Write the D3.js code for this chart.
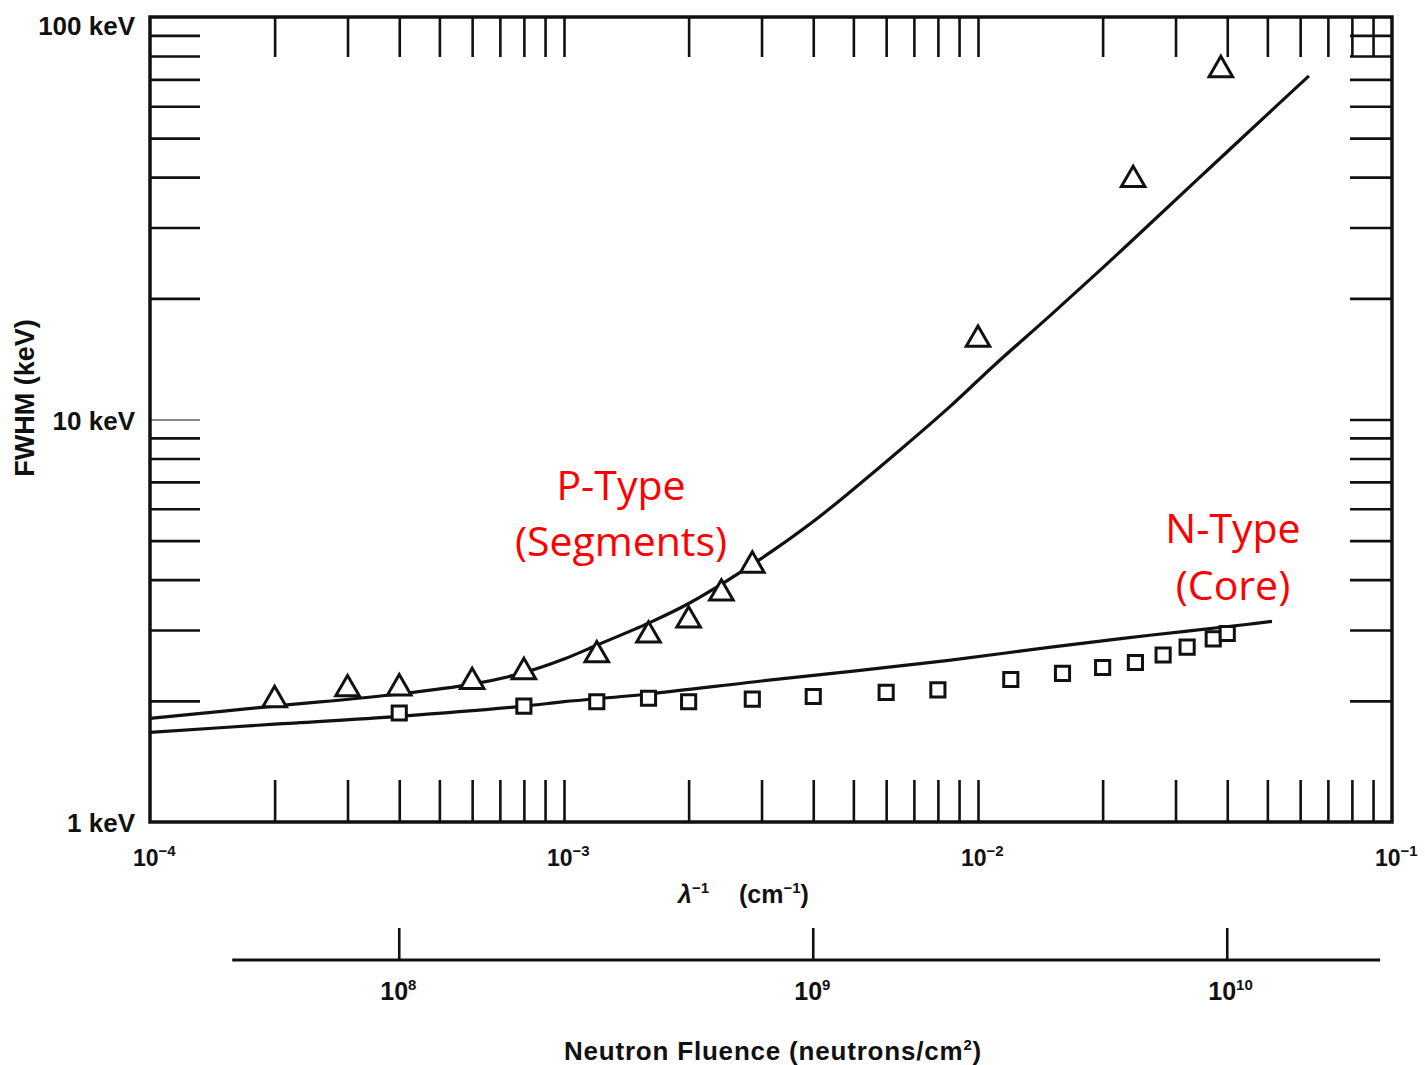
<!DOCTYPE html>
<html>
<head>
<meta charset="utf-8">
<script src="https://cdn.jsdelivr.net/npm/d3@7"></script>
<style>
  body { margin: 0; background: #fff; }
  text { font-family: "Liberation Sans", Arial, sans-serif; font-weight: bold; fill: #111; }
</style>
</head>
<body>
<svg id="chart"></svg>
<script>
// inverse wavelength (cm^-1) and FWHM (keV)
const pTypeLambda = [2e-4, 3e-4, 4e-4, 6e-4, 8e-4, 1.2e-3, 1.6e-3, 2e-3, 2.4e-3, 2.85e-3, 1e-2, 2.37e-2, 3.86e-2];
const pTypeFwhm   = [2.01, 2.14, 2.15, 2.23, 2.36, 2.60, 2.91, 3.17, 3.70, 4.34, 15.8, 39.4, 73.9];

const nTypeLambda = [4e-4, 8e-4, 1.2e-3, 1.6e-3, 2e-3, 2.85e-3, 4e-3, 6e-3, 8e-3, 1.2e-2, 1.6e-2, 2e-2, 2.4e-2, 2.8e-2, 3.2e-2, 3.7e-2, 4e-2];
const nTypeFwhm   = [1.865, 1.94, 1.99, 2.03, 1.99, 2.02, 2.05, 2.10, 2.13, 2.26, 2.34, 2.42, 2.49, 2.60, 2.72, 2.85, 2.94];

// fitted curves
const pCurveLambda = [1e-4, 2e-4, 4e-4, 6e-4, 8e-4, 1e-3, 1.2e-3, 1.6e-3, 2e-3, 3e-3, 4e-3, 5e-3, 6.5e-3, 8.5e-3, 1.1e-2, 1.5e-2, 2e-2, 2.6e-2, 3.4e-2, 4.5e-2, 6.3e-2];
const pCurveFwhm   = [1.81, 1.94, 2.08, 2.20, 2.35, 2.54, 2.75, 3.12, 3.49, 4.52, 5.58, 6.71, 8.42, 10.7, 13.7, 18.2, 23.8, 30.6, 39.6, 51.8, 71.4];

const nCurveLambda = [1e-4, 2e-4, 4e-4, 8e-4, 1e-3, 1.6e-3, 3e-3, 5e-3, 8.5e-3, 1.5e-2, 2.6e-2, 4.5e-2, 5.13e-2];
const nCurveFwhm   = [1.67, 1.75, 1.83, 1.94, 1.99, 2.08, 2.24, 2.37, 2.52, 2.72, 2.91, 3.10, 3.15];

const yMinorTicks = [2, 3, 4, 5, 6, 7, 8, 9, 20, 30, 40, 50, 60, 70, 80, 90];
const yLabelTicks = [1, 10, 100];
const xMinorTicks = [2e-4, 3e-4, 4e-4, 5e-4, 6e-4, 7e-4, 8e-4, 9e-4, 1e-3,
                     2e-3, 3e-3, 4e-3, 5e-3, 6e-3, 7e-3, 8e-3, 9e-3, 1e-2,
                     2e-2, 3e-2, 4e-2, 5e-2, 6e-2, 7e-2, 8e-2, 9e-2];
const xLabelTicks = [1e-4, 1e-3, 1e-2, 1e-1];
const fluenceTicks = [1e8, 1e9, 1e10];
const fluenceExtent = [3.95e7, 2.34e10];
const fluencePerLambda = 2.5e11;

const width = 1425, height = 1065;
const plotLeft = 150, plotRight = 1392, plotTop = 17, plotBottom = 822;

const svg = d3.select("#chart").attr("width", width).attr("height", height);

const x = d3.scaleLog().domain([1e-4, 1e-1]).range([plotLeft, plotRight]);
const y = d3.scaleLog().domain([1, 100]).range([plotBottom, plotTop]);
const xf = d3.scaleLog()
  .domain([1e-4 * fluencePerLambda, 1e-1 * fluencePerLambda])
  .range([plotLeft, plotRight]);

// ticks (all pointing inwards)
function tickAxis(axis, tr, sw) {
  const g = svg.append("g").attr("transform", tr).call(axis);
  g.select(".domain").remove();
  g.selectAll(".tick line").attr("stroke", "#111").attr("stroke-width", sw);
  g.selectAll(".tick text").remove();
  return g;
}
tickAxis(d3.axisLeft(y).tickValues(yMinorTicks).tickSize(-50), `translate(${plotLeft},0)`, 2.6);
tickAxis(d3.axisLeft(y).tickValues([10]).tickSize(-50), `translate(${plotLeft},0)`, 1);
tickAxis(d3.axisRight(y).tickValues(yMinorTicks.concat([10])).tickSize(-42), `translate(${plotRight},0)`, 2.6);
tickAxis(d3.axisTop(x).tickValues(xMinorTicks).tickSize(-40), `translate(0,${plotTop})`, 2.6);
tickAxis(d3.axisBottom(x).tickValues(xMinorTicks).tickSize(-42), `translate(0,${plotBottom})`, 2.6);

// frame
svg.append("rect")
  .attr("x", plotLeft).attr("y", plotTop)
  .attr("width", plotRight - plotLeft).attr("height", plotBottom - plotTop)
  .attr("fill", "none").attr("stroke", "#111").attr("stroke-width", 3.5);

// y labels
svg.selectAll(".ylab").data(yLabelTicks).enter().append("text")
  .attr("x", 135).attr("y", d => Math.max(y(d) + 10, 35))
  .attr("text-anchor", "end").style("font-size", "26px")
  .text(d => d + " keV");

// x labels with superscripts
const xl = svg.selectAll(".xlab").data(xLabelTicks).enter().append("text")
  .attr("x", d => x(d) - 17).attr("y", 866).style("font-size", "23px");
xl.append("tspan").text("10");
xl.append("tspan").attr("dy", -10).style("font-size", "15px")
  .text(d => "\u2212" + Math.round(-Math.log10(d)));

const xt = svg.append("text").attr("x", 678).attr("y", 903).style("font-size", "25px");
xt.append("tspan").style("font-style", "italic").text("\u03bb");
xt.append("tspan").attr("dy", -10).style("font-size", "15px").text("\u22121");
xt.append("tspan").attr("dy", 10).attr("dx", 30).text("(cm");
xt.append("tspan").attr("dy", -10).style("font-size", "15px").text("\u22121");
xt.append("tspan").attr("dy", 10).text(")");

svg.append("text")
  .attr("transform", "translate(34,398) rotate(-90)")
  .attr("text-anchor", "middle").style("font-size", "27px")
  .text("FWHM (keV)");

// curves
const line = d3.line().x(d => x(d[0])).y(d => y(d[1])).curve(d3.curveCatmullRom.alpha(0.5));
svg.append("path").datum(d3.zip(pCurveLambda, pCurveFwhm))
  .attr("d", line).attr("fill", "none").attr("stroke", "#111").attr("stroke-width", 3.2);
svg.append("path").datum(d3.zip(nCurveLambda, nCurveFwhm))
  .attr("d", line).attr("fill", "none").attr("stroke", "#111").attr("stroke-width", 3.2);

// markers
const tri = d3.symbol().type(d3.symbolTriangle).size(240);
svg.selectAll(".tri").data(d3.zip(pTypeLambda, pTypeFwhm)).enter().append("path")
  .attr("transform", d => `translate(${x(d[0])},${y(d[1])})`)
  .attr("d", tri).attr("fill", "#fff").attr("stroke", "#111").attr("stroke-width", 3);
const sq = d3.symbol().type(d3.symbolSquare).size(200);
svg.selectAll(".sq").data(d3.zip(nTypeLambda, nTypeFwhm)).enter().append("path")
  .attr("transform", d => `translate(${x(d[0])},${y(d[1])})`)
  .attr("d", sq).attr("fill", "#fff").attr("stroke", "#111").attr("stroke-width", 3);

// annotations
const red = "#ff0000";
[["P-Type", 621, 500], ["(Segments)", 621, 556], ["N-Type", 1233, 543], ["(Core)", 1233, 600]]
  .forEach(([t, tx, ty]) => {
    svg.append("text").attr("x", tx).attr("y", ty).attr("text-anchor", "middle")
      .style("font-family", "'Open Sans', sans-serif").style("font-weight", "normal")
      .style("font-size", "41px").style("fill", red).text(t);
  });

// neutron fluence axis
const fa = svg.append("g").attr("transform", "translate(0,960)");
fa.append("line")
  .attr("x1", xf(fluenceExtent[0])).attr("x2", xf(fluenceExtent[1]))
  .attr("stroke", "#111").attr("stroke-width", 3);
fa.selectAll(".ft").data(fluenceTicks).enter().append("line")
  .attr("x1", d => xf(d)).attr("x2", d => xf(d)).attr("y1", 0).attr("y2", -32)
  .attr("stroke", "#111").attr("stroke-width", 2.6);
const fl = fa.selectAll(".fl").data(fluenceTicks).enter().append("text")
  .attr("x", d => xf(d) - 19).attr("y", 40).style("font-size", "25px");
fl.append("tspan").text("10");
fl.append("tspan").attr("dy", -10).style("font-size", "15px").text(d => Math.round(Math.log10(d)));

const ft = svg.append("text").attr("x", 773).attr("y", 1060)
  .attr("text-anchor", "middle").style("font-size", "26px").style("letter-spacing", "0.8px");
ft.append("tspan").text("Neutron Fluence (neutrons/cm");
ft.append("tspan").attr("dy", -10).style("font-size", "15px").text("2");
ft.append("tspan").attr("dy", 10).text(")");
</script>
</body>
</html>
